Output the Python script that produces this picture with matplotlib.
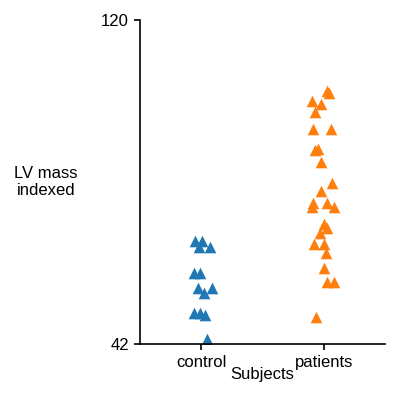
import numpy as np
import matplotlib
matplotlib.use("Agg")
import matplotlib.pyplot as plt

plt.rcParams['font.family'] = ['Liberation Sans', 'DejaVu Sans']

# values
groups = ['control', 'patients']
control_vals = [66.8, 66.8, 65.4, 65.4, 59.1, 59.1, 55.5, 55.5, 54.3, 49.5, 49.5, 49.0, 43.2]
control_jit = [-0.05, 0.01, -0.02, 0.07, -0.06, -0.01, -0.03, 0.09, 0.02, -0.06, -0.01, 0.03, 0.05]
patient_vals = [102.8, 102.4, 100.6, 99.9, 97.8, 93.7, 93.7, 88.7, 88.9, 85.8, 80.8, 78.9,
                75.9, 75.1, 75.9, 74.9, 70.9, 69.9, 68.8, 66.0, 66.1, 63.8, 60.4, 57.0, 57.0, 48.4]
patient_jit = [0.03, 0.04, -0.10, -0.02, -0.07, -0.09, 0.06, -0.07, -0.05, -0.02, 0.07, -0.02,
               -0.09, -0.10, 0.03, 0.08, 0.00, 0.03, -0.03, -0.08, 0.00, 0.02, 0.00, 0.03, 0.08, -0.06]

fig = plt.figure(figsize=(4.0, 4.09), dpi=100)
ax = fig.add_axes([0.35, 0.159, 0.6125, 0.792])

colors = ['#1f77b4', '#ff7f0e']
for i, (vals, jit) in enumerate([(control_vals, control_jit), (patient_vals, patient_jit)]):
    ax.scatter(i + np.array(jit), vals, marker='^', s=70, color=colors[i], linewidth=0)

ax.set_xlim(-0.5, 1.5)
ax.set_ylim(42, 120)
ax.set_yticks([42, 120])
ax.set_xticks([0, 1])
ax.set_xticklabels(groups)
ax.tick_params(labelsize=12, length=4.5, width=1.2)
for s in ['left', 'bottom']:
    ax.spines[s].set_linewidth(1.2)
ax.spines['top'].set_visible(False)
ax.spines['right'].set_visible(False)
ax.set_xlabel('Subjects', fontsize=12, labelpad=-2)
ax.set_ylabel('LV mass\nindexed', fontsize=12, rotation=0, ha='center', va='center')
ax.yaxis.set_label_coords(-0.383, 0.5)

fig.savefig('out.png', dpi=100)
